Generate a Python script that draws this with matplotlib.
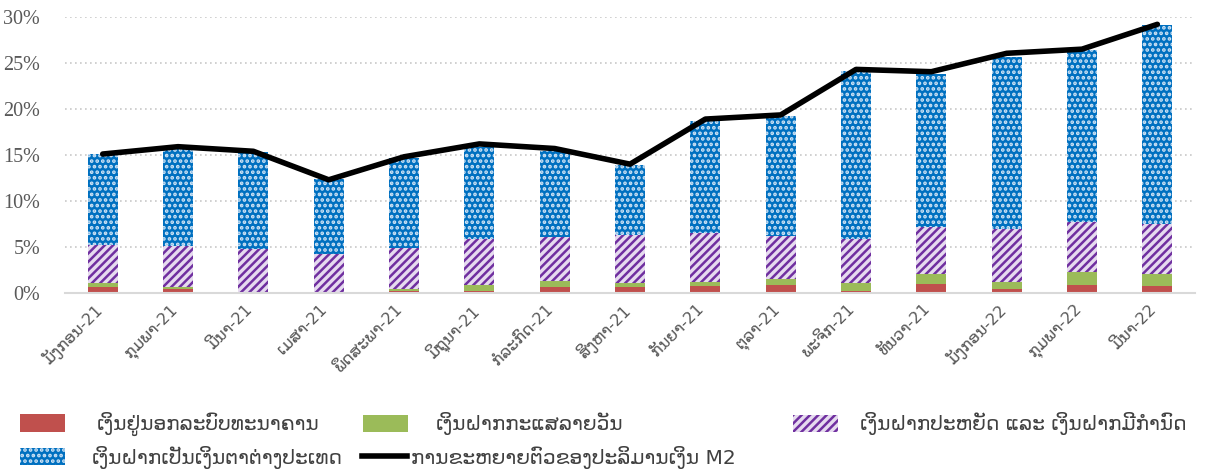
import numpy as np
import matplotlib.pyplot as plt
import matplotlib.transforms as mtransforms
from matplotlib.patches import Patch
from matplotlib.lines import Line2D

# DATA (percent)
months = ["ມັງກອນ-21", "ກຸມພາ-21", "ມີນາ-21", "ເມສາ-21", "ພຶດສະພາ-21", "ມິຖຸນາ-21",
          "ກໍລະກົດ-21", "ສິງຫາ-21", "ກັນຍາ-21", "ຕຸລາ-21", "ພະຈິກ-21", "ທັນວາ-21",
          "ມັງກອນ-22", "ກຸມພາ-22", "ມີນາ-22"]
currency = [0.65, 0.43, 0.10, 0.05, 0.25, 0.25, 0.62, 0.62, 0.80, 0.87, 0.25, 0.98, 0.47, 0.87, 0.80]
demand = [0.40, 0.22, 0.05, 0.05, 0.22, 0.62, 0.68, 0.47, 0.43, 0.68, 0.80, 1.12, 0.73, 1.43, 1.27]
savings = [4.15, 4.45, 4.60, 4.10, 4.43, 5.00, 4.80, 5.18, 5.27, 4.65, 4.78, 5.10, 5.70, 5.40, 5.43]
foreign = [9.90, 10.50, 10.55, 8.20, 9.80, 10.03, 9.30, 7.63, 12.20, 13.00, 18.27, 16.60, 18.80, 18.70, 21.60]
m2_growth = [15.1, 15.9, 15.4, 12.3, 14.8, 16.2, 15.7, 14.0, 18.9, 19.35, 24.3, 24.05, 26.05, 26.5, 29.2]

lbl_currency = "ເງິນຢູ່ນອກລະບົບທະນາຄານ"
lbl_demand = "ເງິນຝາກກະແສລາຍວັນ"
lbl_savings = "ເງິນຝາກປະຫຍັດ ແລະ ເງິນຝາກມີກຳນົດ"
lbl_foreign = "ເງິນຝາກເປັນເງິນຕາຕ່າງປະເທດ"
lbl_m2 = "ການຂະຫຍາຍຕົວຂອງປະລິມານເງິນ M2"

plt.rcParams['hatch.linewidth'] = 1.8
plt.rcParams['font.family'] = ['DejaVu Sans']

fig = plt.figure(figsize=(12.11, 4.71), dpi=100)
ax = fig.add_axes([0.0537, 0.378, 0.9331, 0.586])

x = np.arange(len(months))
w = 0.4
c1 = np.array(currency)
c2 = c1 + np.array(demand)
c3 = c2 + np.array(savings)

ax.bar(x, currency, w, color="#c0504d", zorder=2)
ax.bar(x, demand, w, bottom=c1, color="#9bbb59", zorder=2)
ax.bar(x, savings, w, bottom=c2, facecolor="#e6dbef", edgecolor="#7030a0",
       hatch="////", linewidth=0, zorder=2)
ax.bar(x, foreign, w, bottom=c3, facecolor="#0070c0", edgecolor="#cfe3f5",
       hatch="...", linewidth=0, zorder=2)
ax.plot(x, m2_growth, color="black", linewidth=4, zorder=3, solid_capstyle="round")

ax.set_xlim(-0.5, len(months) - 0.5)
ax.set_ylim(0, 30)
ax.set_yticks(np.arange(0, 31, 5))
ax.set_yticklabels([f"{v}%" for v in range(0, 31, 5)], family="Liberation Serif",
                   fontsize=14.5, color="#595959")
ax.yaxis.grid(True, linestyle=(0, (1, 2)), color="#c8c8c8", linewidth=1.2, zorder=0)
ax.set_xticks(x)
ax.set_xticklabels(months, rotation=45, ha="right", rotation_mode="anchor",
                   fontsize=11.5, color="#595959")
ax.tick_params(axis="both", length=0)
ax.tick_params(axis="x", pad=6)
ax.tick_params(axis="y", pad=18)
shift = mtransforms.ScaledTranslation(-9 / 100, 0, fig.dpi_scale_trans)
for t in ax.get_xticklabels():
    t.set_transform(t.get_transform() + shift)
for s in ["top", "right", "left"]:
    ax.spines[s].set_visible(False)
ax.spines["bottom"].set_color("#d9d9d9")
ax.spines["bottom"].set_linewidth(1.5)

h_cur = Patch(facecolor="#c0504d", label=lbl_currency)
h_dem = Patch(facecolor="#9bbb59", label=lbl_demand)
h_sav = Patch(facecolor="#e6dbef", edgecolor="#7030a0", hatch="////", linewidth=0, label=lbl_savings)
h_for = Patch(facecolor="#0070c0", edgecolor="#cfe3f5", hatch="...", linewidth=0, label=lbl_foreign)
h_m2 = Line2D([], [], color="black", linewidth=4, label=lbl_m2)


def add_entry(handle, xpos, ypos, pad):
    # one legend per entry so every entry sits where it does in the original
    leg = fig.legend(handles=[handle], loc="center left", bbox_to_anchor=(xpos, ypos),
                     frameon=False, fontsize=14.5, handlelength=2.25, handleheight=0.95,
                     labelcolor="#404040", borderaxespad=0, borderpad=0, handletextpad=pad)
    return leg


add_entry(h_cur, 0.0165, 0.0998, 1.55)
add_entry(h_for, 0.0165, 0.0297, 1.3)
add_entry(h_dem, 0.2998, 0.0998, 1.35)
add_entry(h_m2, 0.2990, 0.0297, 0.2)
add_entry(h_sav, 0.6548, 0.0998, 1.1)

fig.savefig("out.png", dpi=100)
